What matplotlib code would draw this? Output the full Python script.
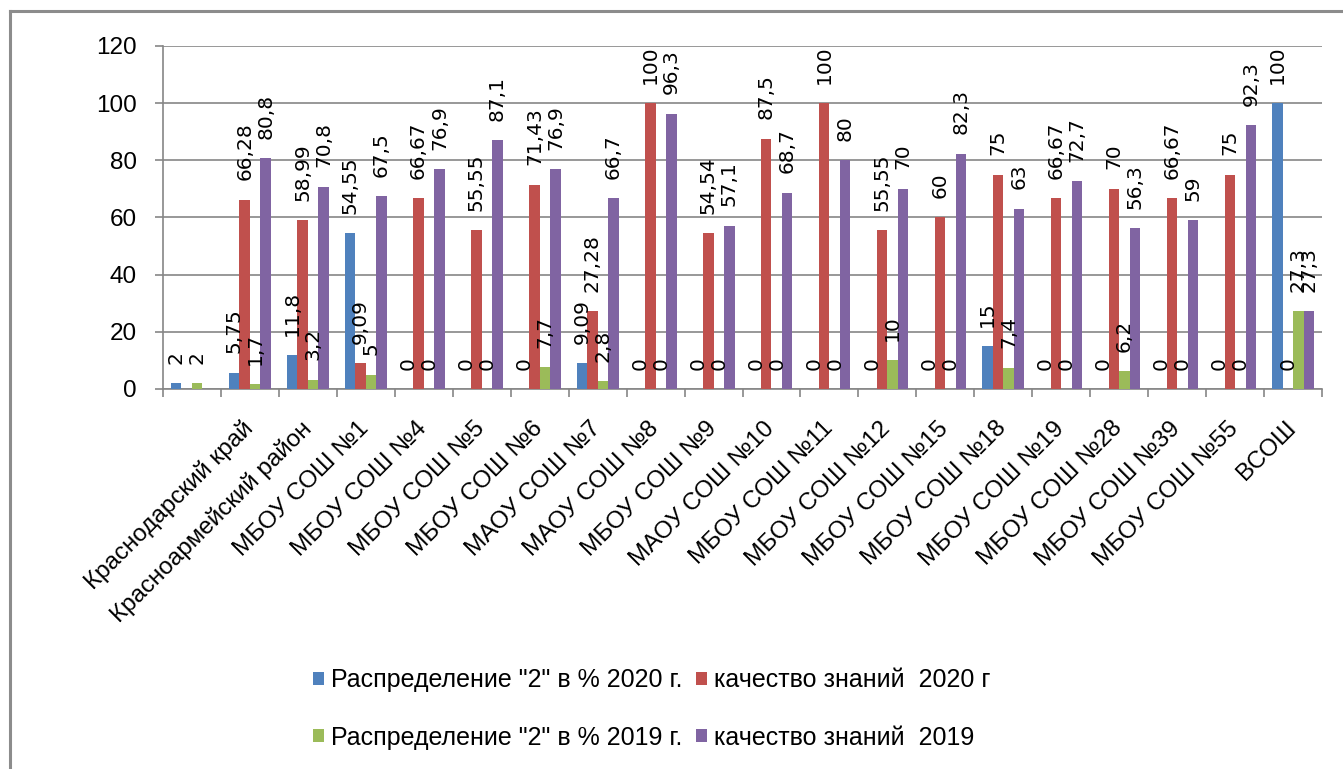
import numpy as np
import matplotlib
matplotlib.use('Agg')
import matplotlib.pyplot as plt
from matplotlib.lines import Line2D

nan = np.nan
categories = ['', 'Краснодарский край', 'Красноармейский район', 'МБОУ СОШ №1',
              'МБОУ СОШ №4', 'МБОУ СОШ №5', 'МБОУ СОШ №6', 'МАОУ СОШ №7',
              'МАОУ СОШ №8', 'МБОУ СОШ №9', 'МАОУ СОШ №10', 'МБОУ СОШ №11',
              'МБОУ СОШ №12', 'МБОУ СОШ №15', 'МБОУ СОШ №18', 'МБОУ СОШ №19',
              'МБОУ СОШ №28', 'МБОУ СОШ №39', 'МБОУ СОШ №55', 'ВСОШ']
fail_2020 = [2, 5.75, 11.8, 54.55, 0, 0, 0, 9.09, 0, 0, 0, 0, 0, 0, 15, 0, 0, 0, 0, 100]
quality_2020 = [nan, 66.28, 58.99, 9.09, 66.67, 55.55, 71.43, 27.28, 100, 54.54, 87.5,
                100, 55.55, 60, 75, 66.67, 70, 66.67, 75, 0]
fail_2019 = [2, 1.7, 3.2, 5, 0, 0, 7.7, 2.8, 0, 0, 0, 0, 10, 0, 7.4, 0, 6.2, 0, 0, 27.3]
quality_2019 = [nan, 80.8, 70.8, 67.5, 76.9, 87.1, 76.9, 66.7, 96.3, 57.1, 68.7, 80, 70,
                82.3, 63, 72.7, 56.3, 59, 92.3, 27.3]
series_names = ['Распределение "2" в % 2020 г.', 'качество знаний  2020 г',
                'Распределение "2" в % 2019 г.', 'качество знаний  2019']
colors = ['#4F81BD', '#C0504D', '#9BBB59', '#8064A2']
y_ticks = [0, 20, 40, 60, 80, 100, 120]

series = [fail_2020, quality_2020, fail_2019, quality_2019]

W, H = 1343, 769
fig = plt.figure(figsize=(W / 100, H / 100), dpi=100)
ax = fig.add_axes([163 / W, 1 - 389 / H, (1322 - 163) / W, (389 - 46) / H])

grid_c = '#868686'
n = len(categories)
x = np.arange(n)
bw = 0.181
offsets = [-1.5, -0.5, 0.5, 1.5]
handles = []
for s, vals, col, off in zip(series_names, series, colors, offsets):
    v = np.array(vals, dtype=float)
    bars = ax.bar(x + off * bw, np.nan_to_num(v), width=bw, color=col, label=s,
                  zorder=3, linewidth=0)
    handles.append(bars)
    for xi, val in zip(x, v):
        if np.isnan(val):
            continue
        txt = f"{val:g}".replace('.', ',')
        ax.annotate(txt, (xi + off * bw, val), xytext=(0, 14), textcoords='offset points',
                    rotation=90, ha='center', va='bottom', fontsize=14.5,
                    family='DejaVu Sans', color='black', annotation_clip=False, zorder=4)

ax.set_xlim(-0.5, n - 0.5)
ax.set_ylim(0, 120)
ax.set_yticks(y_ticks)
ax.set_yticklabels([str(t) for t in y_ticks], family='Liberation Sans', fontsize=17.5)
ax.yaxis.grid(True, color=grid_c, linewidth=1.2, zorder=0)
ax.set_axisbelow(True)
ax.tick_params(axis='y', length=6, width=1.2, color=grid_c, pad=13)

ax.set_xticks(x)
ax.set_xticklabels(categories, family='Liberation Sans', fontsize=17.5)
ax.tick_params(axis='x', which='major', length=0, pad=26)
for lbl in ax.get_xticklabels():
    lbl.set_rotation(45)
    lbl.set_ha('right')
    lbl.set_va('center')
    lbl.set_rotation_mode('anchor')
ax.set_xticks(np.arange(-0.5, n, 1.0), minor=True)
ax.tick_params(axis='x', which='minor', length=6, width=1.2, color=grid_c)

for sp in ['top', 'right']:
    ax.spines[sp].set_visible(False)
for sp in ['left', 'bottom']:
    ax.spines[sp].set_color(grid_c)
    ax.spines[sp].set_linewidth(1.2)

leg = fig.legend(handles=[handles[0], handles[2], handles[1], handles[3]],
                 labels=[series_names[0], series_names[2], series_names[1], series_names[3]],
                 ncol=2, loc='center', bbox_to_anchor=(652 / W, 1 - 709 / H),
                 frameon=False, prop={'family': 'Liberation Sans', 'size': 18},
                 handlelength=0.42, handleheight=0.42, handletextpad=0.3,
                 columnspacing=0.55, labelspacing=1.35)

# outer chart frame
fig.add_artist(Line2D([10 / W, 10 / W], [0, 1 - 11 / H], transform=fig.transFigure,
                      color='#8c8c8c', linewidth=2.2))
fig.add_artist(Line2D([10 / W, 1], [1 - 11 / H, 1 - 11 / H], transform=fig.transFigure,
                      color='#8c8c8c', linewidth=2.2))

fig.savefig('out.png', dpi=100, facecolor='white')
